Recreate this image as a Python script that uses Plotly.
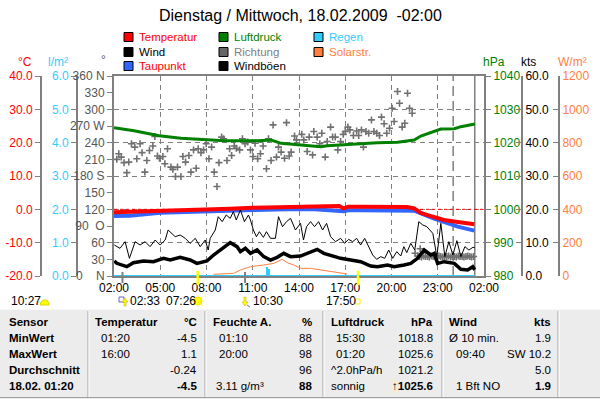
import plotly.graph_objects as go

W, H = 600, 399
def px(x): return x / W
def py(y): return 1 - y / H

FONT = "Liberation Sans, Arial, sans-serif"

# ---------------- data ----------------
x_tickvals = [0, 3, 6, 9, 12, 15, 18, 21, 24]
x_ticktext = ["02:00", "05:00", "08:00", "11:00", "14:00", "17:00", "20:00", "23:00", "02:00"]

temp_h = [0, 1.5, 3, 4.5, 6, 7.5, 9, 10.5, 12, 13, 14, 14.6, 14.9, 15.2, 16, 17, 18, 19,
          19.47, 19.9, 20.4, 20.77, 21.4, 22.3, 23.37]
temp = [-0.9, -0.7, -0.6, -0.4, -0.1, 0.2, 0.5, 0.7, 0.9, 1.0, 1.1, 1.0, 0.3, 0.8, 0.8, 0.7, 0.7, 0.7,
        0.3, -1.1, -1.8, -2.3, -3.2, -3.8, -4.5]

dew_h = [0, 1, 3, 6, 9, 12, 13, 14.9, 15.2, 16, 19.47, 20.77, 21.4, 22.3, 23.37]
dew = [-2.0, -1.9, -1.0, -0.5, -0.2, 0.1, 0.0, -0.6, -0.3, -0.3, -0.4, -2.8, -3.8, -5.2, -6.4]

press_h = [0, 1.30, 2.93, 4.34, 6.07, 7.15, 9.32, 10.19, 10.84, 11.82, 13.40, 13.83, 15.35, 17.09,
           18.39, 19.47, 19.90, 20.77, 21.20, 22.07, 22.50, 23.41]
press = [1024.5, 1023.6, 1022.1, 1021.3, 1020.9, 1020.6, 1020.6, 1020.8, 1019.8, 1019.5, 1018.8,
         1019.1, 1019.6, 1020.0, 1020.1, 1020.8, 1022.0, 1023.3, 1024.1, 1024.2, 1024.8, 1025.6]

wind_h = [0.02, 0.18, 0.83, 1.26, 1.91, 2.56, 3.21, 3.64, 4.29, 4.94, 5.38, 6.03, 6.46, 6.89, 7.54,
          7.98, 8.20, 8.52, 8.85, 9.28, 9.71, 10.15, 10.58, 11.01, 11.45, 12.10, 12.53, 13.18, 13.61,
          14.26, 14.70, 15.35, 16.0, 16.65, 17.09, 17.74, 18.17, 18.82, 19.25, 19.69, 20.12, 20.55,
          20.77, 20.99, 21.42, 22.07, 22.50, 22.94, 23.27, 23.40]
wind = [4.5, 3.8, 2.8, 4.0, 4.5, 4.3, 5.3, 4.8, 5.6, 4.8, 3.8, 4.5, 6.3, 7.8, 10.0,
        8.8, 7.3, 8.3, 6.8, 7.8, 5.8, 4.8, 5.6, 6.8, 5.8, 6.0, 6.8, 8.0, 6.8,
        5.8, 5.3, 4.8, 4.3, 3.0, 2.8, 3.3, 2.8, 3.3, 3.8, 5.3, 7.8, 6.3,
        6.8, 3.8, 4.3, 3.8, 2.0, 1.8, 2.8, 1.9]

gust_h = [0.02, 0.39, 0.72, 1.0, 1.37, 1.69, 2.02, 2.34, 2.67, 2.99, 3.32, 3.51, 3.97, 4.29, 4.62,
          4.94, 5.27, 5.59, 5.92, 6.11, 6.24, 6.57, 6.76, 7.02, 7.28, 7.54, 7.74, 7.93, 8.20, 8.46,
          8.72, 8.85, 9.04, 9.24, 9.43, 9.69, 9.89, 10.15, 10.47, 10.67, 10.93, 11.19, 11.45, 11.77,
          12.10, 12.29, 12.49, 12.75, 13.01, 13.27, 13.53, 13.79, 14.05, 14.37, 14.70, 14.96, 15.22,
          15.48, 15.74, 16.0, 16.26, 16.52, 16.78, 17.04, 17.30, 17.56, 17.82, 18.08, 18.34, 18.60,
          18.80, 18.99, 19.25, 19.51, 19.77, 20.03, 20.29, 20.68, 20.94, 21.20, 21.46, 21.72, 21.98,
          22.24, 22.50, 22.76, 23.02, 23.28, 23.40]
gust = [9.3, 8.3, 10.3, 5.3, 10.3, 9.3, 10.3, 8.8, 10.8, 9.3, 10.8, 13.8, 11.8, 12.3, 11.3,
        9.8, 11.3, 8.8, 10.8, 7.8, 11.3, 13.8, 17.8, 16.3, 18.3, 17.3, 19.3, 16.8, 19.8, 16.3,
        18.3, 16.8, 13.8, 11.8, 13.3, 11.6, 13.3, 11.3, 11.3, 17.8, 14.8, 16.3, 17.3, 13.8,
        15.8, 10.8, 14.8, 16.3, 14.8, 16.3, 13.8, 15.8, 11.8, 10.3, 11.3, 9.8, 11.0,
        10.3, 11.3, 9.3, 11.3, 8.8, 6.3, 5.0, 5.8, 5.3, 7.8, 5.3, 7.3, 6.0,
        8.8, 7.0, 9.8, 7.8, 16.3, 15.3, 14.8, 12.8, 5.8, 15.8, 5.8, 10.3, 6.3,
        10.6, 5.8, 8.8, 7.8, 8.6, 8.5]

solar_h = [6.46, 7.76, 8.20, 8.85, 9.71, 10.37, 10.91, 11.23, 11.66, 12.10, 12.75, 13.40, 14.05, 15.13]
solar = [10, 16, 36, 56, 66, 76, 100, 80, 66, 46, 46, 36, 26, 12]

rain_h = [0, 9.92, 10.06, 23.4]
rain = [0, 0.28, 0.22, 0]

dir_h = [0.18, 0.31, 0.47, 0.65, 0.83, 0.96, 1.13, 1.35, 1.48, 1.69, 1.82, 2.00, 2.13, 2.30, 2.52,
         2.65, 2.82, 2.95, 3.17, 3.30, 3.47, 3.69, 3.82, 3.99, 4.12, 4.34, 4.47, 4.64, 4.86, 4.99,
         5.16, 5.33, 5.46, 5.64, 5.81, 5.98, 6.16, 6.33, 6.50, 6.68, 6.81, 6.98, 7.11, 7.33, 7.50,
         7.63, 7.80, 7.93, 8.15, 8.33, 8.50, 8.67, 8.85, 9.02, 9.15, 9.32, 9.50, 9.67, 9.89, 10.02,
         10.19, 10.32, 10.54, 10.67, 10.84, 11.06, 11.19, 11.36, 11.49, 11.71, 11.84, 12.18, 12.31,
         12.53, 12.66, 12.88, 12.96, 13.18, 13.35, 13.48, 13.70, 13.83, 14.05, 14.18, 14.35, 14.52,
         14.70, 14.87, 15.00, 15.17, 15.30, 15.53, 15.74, 15.87, 16.05, 16.18, 16.34, 16.52, 16.70,
         16.86, 17.04, 17.22, 17.35, 17.52, 17.69, 17.87, 18.04, 18.17, 18.39, 18.52, 18.69, 18.86,
         19.04, 19.17, 19.34, 19.53, 19.86,
         19.70, 19.83, 19.95, 20.08, 20.20, 20.33, 20.45, 20.58, 20.70, 20.83, 20.95, 21.08, 21.20,
         21.33, 21.45, 21.58, 21.70, 21.83, 21.95, 22.08, 22.20, 22.33, 22.45, 22.58, 22.70, 22.83,
         22.95, 23.08, 23.20, 23.33]
dir_deg = [210, 220, 214, 204, 186, 205, 238, 232, 211, 238, 222, 187, 208, 226, 234,
           251, 216, 212, 215, 202, 229, 196, 192, 179, 196, 179, 215, 205, 217, 187,
           227, 194, 229, 222, 227, 238, 211, 232, 187, 161, 204, 250, 247, 208, 229,
           217, 234, 230, 227, 247, 238, 241, 227, 215, 239, 211, 220, 234, 193, 247,
           208, 272, 214, 232, 223, 212, 276, 216, 223, 252, 245, 255, 245,
           224, 250, 218, 260, 250, 238, 257, 214, 242, 268, 250, 250, 227,
           242, 255, 260, 268, 263, 253, 261, 253, 263, 232, 260, 257, 281,
           260, 257, 253, 286, 274, 257, 266, 302, 278, 332, 311, 268, 275,
           329, 302, 293, 41, 49,
           36, 35, 34, 36, 35, 35, 34, 36, 35, 34, 35, 36, 35,
           34, 35, 35, 36, 34, 35, 35, 34, 36, 35, 35, 34, 35,
           36, 35, 34, 35]

deg_tickvals = [0, 30, 60, 90, 120, 150, 180, 210, 240, 270, 300, 330, 360]
deg_ticktext = ["0    N", "30", "60", "90  O", "120", "150", "180 S", "210", "240", "270 W",
                "300", "330", "360 N"]

midnight_h = 22.0
now_h = 23.4
sun_marks_h = [5.43, 15.83]      # 07:26, 17:50
moon_marks_h = [0.55, 8.5]       # 02:33, 10:30

# ---------------- colours ----------------
RED = "#ff0000"
BLUE = "#3366ff"
GREEN = "#008000"
GREY = "#808080"
DGREY = "#666666"
CYAN = "#33ccff"
ORANGE = "#ff8040"

fig = go.Figure()

fig.add_trace(go.Scatter(x=dir_h, y=dir_deg, mode="markers", yaxis="y3",
                         marker=dict(symbol="cross-thin", size=5, color="#707070",
                                     line=dict(width=1.6, color="#707070"))))
fig.add_trace(go.Scatter(x=press_h, y=press, mode="lines", yaxis="y4",
                         line=dict(color=GREEN, width=3)))
fig.add_trace(go.Scatter(x=solar_h, y=solar, mode="lines", yaxis="y6",
                         line=dict(color=ORANGE, width=1)))
fig.add_trace(go.Scatter(x=[rain_h[0], rain_h[-1]], y=[0, 0], mode="lines", yaxis="y2",
                         line=dict(color=CYAN, width=2)))
fig.add_trace(go.Bar(x=rain_h, y=rain, yaxis="y2", marker=dict(color=CYAN, line=dict(width=0)),
                     width=0.14))
fig.add_trace(go.Scatter(x=gust_h, y=gust, mode="lines", yaxis="y5",
                         line=dict(color="black", width=1)))
fig.add_trace(go.Scatter(x=wind_h, y=wind, mode="lines", yaxis="y5",
                         line=dict(color="black", width=3.5)))
fig.add_trace(go.Scatter(x=dew_h, y=dew, mode="lines", yaxis="y",
                         line=dict(color=BLUE, width=4)))
fig.add_trace(go.Scatter(x=temp_h, y=temp, mode="lines", yaxis="y",
                         line=dict(color=RED, width=4)))

dom = [py(276), py(76)]
GRIDDASH = "5px,4px"

def yax(**kw):
    d = dict(domain=dom, showgrid=False, zeroline=False, showline=True, linecolor=GREY,
             linewidth=2, ticks="outside", ticklen=5, tickcolor=GREY, tickwidth=1,
             fixedrange=True, automargin=False)
    d.update(kw)
    return d

fig.update_layout(
    template="none",
    width=W, height=H, margin=dict(l=0, r=0, t=0, b=0, pad=0, autoexpand=False),
    paper_bgcolor="white", plot_bgcolor="white", showlegend=False, bargap=0,
    font=dict(family=FONT, size=12, color="black"),
    xaxis=dict(domain=[px(114), px(484)], range=[0, 24], tickvals=x_tickvals, ticktext=x_ticktext,
               showgrid=True, gridcolor=GREY, griddash=GRIDDASH, gridwidth=1, zeroline=False,
               showline=True, linecolor=GREY, linewidth=2, mirror=True, ticks="",
               automargin=False, fixedrange=True,
               tickfont=dict(family=FONT, size=12, color="black"), anchor="y"),
    yaxis=yax(range=[-20, 40], tickvals=[-20, -10, 0, 10, 20, 30, 40],
              ticktext=["-20.0", "-10.0", "0.0", "10.0", "20.0", "30.0", "40.0"],
              anchor="free", position=px(41), side="left",
              showgrid=True, gridcolor=GREY, griddash=GRIDDASH, gridwidth=1,
              tickfont=dict(family=FONT, size=12, color=RED)),
    yaxis2=yax(range=[0, 6], tickvals=[0, 1, 2, 3, 4, 5, 6],
               ticktext=["0.0", "1.0", "2.0", "3.0", "4.0", "5.0", "6.0"],
               anchor="free", position=px(77), side="left", overlaying="y",
               tickfont=dict(family=FONT, size=12, color=CYAN)),
    yaxis3=yax(range=[0, 360], tickvals=deg_tickvals, ticktext=deg_ticktext,
               anchor="x", side="left", overlaying="y",
               tickfont=dict(family=FONT, size=12, color="#555555")),
    yaxis4=yax(range=[980, 1040], tickvals=[980, 990, 1000, 1010, 1020, 1030, 1040],
               anchor="x", side="right", overlaying="y",
               tickfont=dict(family=FONT, size=12, color=GREEN)),
    yaxis5=yax(range=[0, 60], tickvals=[0, 10, 20, 30, 40, 50, 60],
               ticktext=["0.0", "10.0", "20.0", "30.0", "40.0", "50.0", "60.0"],
               anchor="free", position=px(522), side="right", overlaying="y", ticks="inside",
               tickfont=dict(family=FONT, size=12, color="black")),
    yaxis6=yax(range=[0, 1200], tickvals=[0, 200, 400, 600, 800, 1000, 1200],
               anchor="free", position=px(559), side="right", overlaying="y", ticks="inside",
               tickfont=dict(family=FONT, size=12, color=ORANGE)),
)

shapes = []
annos = []

def txt(x, y, s, color="black", size=12, xa="left", bold=False):
    if bold:
        s = "<b>" + s + "</b>"
    annos.append(dict(x=px(x), y=py(y), xref="paper", yref="paper", text=s, showarrow=False,
                      xanchor=xa, yanchor="middle", font=dict(family=FONT, size=size, color=color),
                      borderpad=0))

def rect(x0, y0, x1, y1, fill, line=None, lw=1, layer="above"):
    shapes.append(dict(type="rect", xref="paper", yref="paper", x0=px(x0), x1=px(x1),
                       y0=py(y1), y1=py(y0), fillcolor=fill,
                       line=dict(color=line or fill, width=lw if line else 0), layer=layer))

def pline(x0, y0, x1, y1, color, w=1, dash="solid"):
    shapes.append(dict(type="line", xref="paper", yref="paper", x0=px(x0), x1=px(x1),
                       y0=py(y0), y1=py(y1), line=dict(color=color, width=w, dash=dash)))

# reference lines inside plot
shapes.append(dict(type="line", xref="x", yref="y", x0=0, x1=24, y0=0, y1=0, layer="between",
                   line=dict(color=RED, width=1, dash="3px,3px")))
shapes.append(dict(type="line", xref="x", yref="paper", x0=midnight_h, x1=midnight_h,
                   y0=dom[0], y1=dom[1], layer="between",
                   line=dict(color=GREY, width=1.5, dash="10px,5px")))
shapes.append(dict(type="line", xref="x", yref="paper", x0=now_h, x1=now_h,
                   y0=dom[0], y1=dom[1], layer="between", line=dict(color=GREY, width=1.5)))

# sun / moon markers under the axis
for h in sun_marks_h:
    shapes.append(dict(type="line", xref="x", yref="paper", x0=h, x1=h, y0=py(285), y1=py(271),
                       line=dict(color="#ffff00", width=2.5)))
for h in moon_marks_h:
    shapes.append(dict(type="line", xref="x", yref="paper", x0=h, x1=h, y0=py(283), y1=py(272),
                       line=dict(color=GREY, width=2)))

# title
txt(300, 15, "Dienstag / Mittwoch, 18.02.2009  -02:00", size=16, xa="center")

# legend
legend = [
    (124, 37, RED, "Temperatur", RED), (124, 52, "black", "Wind", "black"),
    (124, 66, BLUE, "Taupunkt", RED),
    (219, 37, GREEN, "Luftdruck", GREEN), (219, 52, DGREY, "Richtung", GREY),
    (219, 66, "black", "Windböen", "black"),
    (314, 37, CYAN, "Regen", CYAN), (314, 52, ORANGE, "Solarstr.", ORANGE),
]
for x, y, c, s, tc in legend:
    rect(x, y - 4.5, x + 9, y + 4.5, c, line="black", lw=1)
    txt(x + 14, y, s, color=tc, size=11.5)

# axis unit labels
txt(25, 62, "°C", RED, 12, "center")
txt(58, 62, "l/m²", CYAN, 12, "center")
txt(103, 60, "°", "#555555", 12, "center")
txt(494, 62, "hPa", GREEN, 12, "center")
txt(528, 62, "kts", "black", 12, "center")
txt(572, 62, "W/m²", ORANGE, 12, "center")

# astro row
txt(10, 301, "10:27")
shapes.append(dict(type="path", xref="paper", yref="paper", layer="above",
                   path=f"M {px(40)},{py(305)} L {px(49)},{py(305)} Q {px(49)},{py(300)} {px(45)},{py(300)} "
                        f"Q {px(41)},{py(300)} {px(40)},{py(305)} Z",
                   fillcolor="#ffff00", line=dict(color="#e0d000", width=1)))
# moon-rise icon
rect(119, 297, 124, 302, "rgba(0,0,0,0)", line="#6666cc", lw=1)
shapes.append(dict(type="path", xref="paper", yref="paper", layer="above",
                   path=f"M {px(125)},{py(298)} L {px(122)},{py(302)} L {px(124)},{py(302)} "
                        f"L {px(124)},{py(306)} L {px(126)},{py(306)} L {px(126)},{py(302)} "
                        f"L {px(128)},{py(302)} Z",
                   fillcolor="#ffff00", line=dict(color="#c0a000", width=0.5)))
txt(129, 301, "02:33")
txt(165, 301, "07:26")
# sun icon
shapes.append(dict(type="circle", xref="paper", yref="paper", x0=px(194), x1=px(202),
                   y0=py(305), y1=py(297), fillcolor="#ffff00", line=dict(color="#ffdd00", width=1)))
for dx, dy in [(-6, 0), (6, 0), (0, -6), (0, 6), (-4.5, -4.5), (4.5, 4.5), (-4.5, 4.5), (4.5, -4.5)]:
    pline(198 + dx * 0.75, 301 + dy * 0.75, 198 + dx, 301 + dy, "#ffee44", 1)
# moon-set icon
shapes.append(dict(type="path", xref="paper", yref="paper", layer="above",
                   path=f"M {px(245)},{py(306)} L {px(242)},{py(302)} L {px(244)},{py(302)} "
                        f"L {px(244)},{py(297)} L {px(246)},{py(297)} L {px(246)},{py(302)} "
                        f"L {px(248)},{py(302)} Z",
                   fillcolor="#ffff00", line=dict(color="#c0a000", width=0.5)))
pline(247, 305, 250, 307, "#6666cc", 1)
txt(252, 301, "10:30")
txt(325, 301, "17:50")
rect(355, 299, 360, 304, "rgba(0,0,0,0)", line="#ffee00", lw=1)

# table panel
rect(0, 309, 600, 399, "#ececec")
pline(0, 309.5, 600, 309.5, "#f8f8f8", 1)
pline(0, 397.5, 600, 397.5, "#a0a0a0", 1)
for sx in [88, 205, 323, 442, 558]:
    pline(sx, 311, sx, 397, "#a0a0a0", 1)
    pline(sx + 1, 311, sx + 1, 397, "#ffffff", 1)

rows_y = [322, 338, 354, 370, 386]
TS = 11.5
col1 = ["Sensor", "MinWert", "MaxWert", "Durchschnitt", "18.02. 01:20"]
for y, s in zip(rows_y, col1):
    txt(8, y, s, size=TS, bold=True)

txt(94, rows_y[0], "Temperatur", size=TS, bold=True)
txt(198, rows_y[0], "°C", size=TS, bold=True, xa="right")
for y, s in zip(rows_y[1:], ["01:20", "16:00", "", ""]):
    if s:
        txt(100, y, s, size=TS)
for i, (y, s) in enumerate(zip(rows_y[1:], ["-4.5", "1.1", "-0.24", "-4.5"])):
    txt(198, y, s, size=TS, xa="right", bold=(i == 3))

txt(212, rows_y[0], "Feuchte A.", size=TS, bold=True)
txt(313, rows_y[0], "%", size=TS, bold=True, xa="right")
for y, s in zip(rows_y[1:], ["01:10", "20:00"]):
    txt(218, y, s, size=TS)
txt(215, rows_y[4], "3.11 g/m³", size=TS)
for i, (y, s) in enumerate(zip(rows_y[1:], ["88", "98", "96", "88"])):
    txt(313, y, s, size=TS, xa="right", bold=(i == 3))

txt(330, rows_y[0], "Luftdruck", size=TS, bold=True)
txt(434, rows_y[0], "hPa", size=TS, bold=True, xa="right")
for y, s, x in zip(rows_y[1:], ["15:30", "01:20", "^2.0hPa/h", "sonnig"], [335, 335, 330, 330]):
    txt(x, y, s, size=TS)
rect(391, 379, 398, 393, "#f4ecd8")
for i, (y, s) in enumerate(zip(rows_y[1:], ["1018.8", "1025.6", "1021.2", "↑1025.6"])):
    txt(434, y, s, size=TS, xa="right", bold=(i == 3))

txt(448, rows_y[0], "Wind", size=TS, bold=True)
txt(552, rows_y[0], "kts", size=TS, bold=True, xa="right")
for y, s, x in zip(rows_y[1:], ["Ø 10 min.", "09:40", "", "1 Bft NO"], [448, 455, 455, 455]):
    if s:
        txt(x, y, s, size=TS)
for i, (y, s) in enumerate(zip(rows_y[1:], ["1.9", "SW 10.2", "5.0", "1.9"])):
    txt(552, y, s, size=TS, xa="right", bold=(i == 3))

fig.update_layout(shapes=shapes, annotations=annos)
fig.write_html("out.html", config={"displayModeBar": False, "staticPlot": True},
               post_script="document.body.style.margin='0px';document.body.style.padding='0px';")
